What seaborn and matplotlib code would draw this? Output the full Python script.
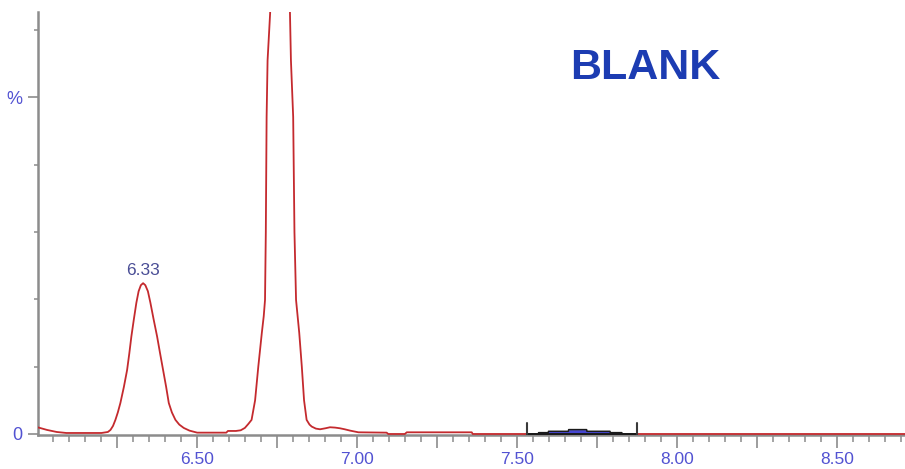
import numpy as np
import pandas as pd
import matplotlib
matplotlib.use("Agg")
import matplotlib.pyplot as plt
import seaborn as sns

# Chromatogram trace: retention time (min) vs relative intensity (%)
rt = [6.000, 6.030, 6.060, 6.090, 6.150, 6.200, 6.220, 6.228, 6.236, 6.2435,
      6.251, 6.259, 6.270, 6.280, 6.287, 6.2934, 6.301, 6.309, 6.316, 6.323,
      6.330, 6.337, 6.345, 6.3528, 6.363, 6.3737, 6.383, 6.3925, 6.402, 6.4103,
      6.420, 6.431, 6.443, 6.457, 6.475, 6.499, 6.550, 6.590, 6.595, 6.620,
      6.635, 6.648, 6.659, 6.669, 6.680, 6.690, 6.701, 6.707, 6.711, 6.7135,
      6.716, 6.719, 6.727, 6.733, 6.742, 6.758, 6.774, 6.783, 6.789, 6.792,
      6.799, 6.803, 6.808, 6.818, 6.826, 6.833, 6.841, 6.850, 6.857, 6.870,
      6.883, 6.900, 6.914, 6.930, 6.945, 6.960, 6.977, 7.003, 7.091, 7.096,
      7.148, 7.154, 7.357, 7.360, 8.711]
intensity = [1.0, 0.6, 0.3, 0.15, 0.15, 0.15, 0.3, 0.6, 1.2, 2.1,
             3.2, 4.6, 7.0, 9.5, 12.0, 14.5, 17.0, 19.5, 21.2, 22.1,
             22.4, 22.1, 21.2, 19.5, 17.0, 14.5, 12.0, 9.5, 7.0, 4.6,
             3.2, 2.1, 1.4, 0.9, 0.5, 0.2, 0.2, 0.2, 0.45, 0.45,
             0.55, 0.9, 1.5, 2.1, 5.0, 10.0, 15.0, 17.5, 19.9, 30.0,
             47.1, 55.5, 62.5, 80.0, 95.0, 100.0, 95.0, 80.0, 62.5, 55.5,
             47.1, 30.0, 19.9, 15.0, 10.0, 5.0, 2.1, 1.4, 1.1, 0.8,
             0.7, 0.85, 1.0, 0.95, 0.85, 0.7, 0.5, 0.25, 0.2, 0.0,
             0.0, 0.25, 0.25, 0.0, 0.0]

# Labelled peak
label_rt = 6.33
label_height = 22.4

# Integrated peak window and its profile
integ_start, integ_end = 7.529, 7.8725
integ_rt = [7.529, 7.565, 7.566, 7.596, 7.597, 7.659, 7.660, 7.716, 7.717, 7.789, 7.790, 7.826, 7.827, 7.8725]
integ_pct = [0.0, 0.0, 0.2, 0.2, 0.4, 0.4, 0.65, 0.65, 0.4, 0.4, 0.2, 0.2, 0.0, 0.0]

# Axis ticks
x_major = [6.25, 6.50, 6.75, 7.00, 7.25, 7.50, 7.75, 8.00, 8.25, 8.50]
x_major_labels = ["", "6.50", "", "7.00", "", "7.50", "", "8.00", "", "8.50"]
x_minor = [round(6.05 + 0.05 * i, 2) for i in range(54)]
y_major = [0, 50]
y_major_labels = ["0", "%"]
y_minor = [10, 20, 30, 40, 60]

sns.set_style("white")
plt.rcParams["font.family"] = ["Liberation Sans", "DejaVu Sans"]

axis_grey = "#8c8c8c"
tick_blue = "#5252d2"
trace_red = "#c42a2e"

fig = plt.figure(figsize=(9.05, 4.69), dpi=100)
ax = fig.add_axes([37.5 / 905, 34 / 469, (905 - 37.5) / 905, (435 - 12) / 469])

trace = pd.DataFrame({"rt": rt, "intensity": intensity})
sns.lineplot(data=trace, x="rt", y="intensity", ax=ax, color=trace_red,
             linewidth=1.3, estimator=None, sort=False, zorder=3)

# Integrated peak: filled area, outline and window markers
ax.fill_between(integ_rt, 0, integ_pct, color="#4646d2", zorder=4, linewidth=0)
integ = pd.DataFrame({"rt": integ_rt, "pct": integ_pct})
sns.lineplot(data=integ, x="rt", y="pct", ax=ax, color="#1a1a1a",
             linewidth=1.1, estimator=None, sort=False, zorder=5)
ax.plot([integ_start, integ_end], [0, 0], color="#1a1a1a", linewidth=1.4, zorder=5)
for xb in (integ_start, integ_end):
    ax.plot([xb, xb], [0, 1.6], color="#3a3a3a", linewidth=1.5, zorder=5)

ax.text(label_rt, label_height + 0.8, f"{label_rt:.2f}", ha="center", va="bottom",
        color="#4a4e96", fontsize=12.5)
ax.text(0.701, 0.868, "BLANK", transform=ax.transAxes, ha="center", va="center",
        color="#1c3cb2", fontsize=31, fontweight="bold")

ax.set_xlim(6.0, 8.711)
ax.set_ylim(-0.15, 62.68)

ax.set_xticks(x_major)
ax.set_xticklabels(x_major_labels)
ax.set_xticks(x_minor, minor=True)
ax.set_yticks(y_major)
ax.set_yticklabels(y_major_labels)
ax.set_yticks(y_minor, minor=True)

ax.tick_params(axis="x", which="major", length=9, width=1.2, color=axis_grey,
               labelcolor=tick_blue, labelsize=12.5, pad=3, direction="out", bottom=True)
ax.tick_params(axis="x", which="minor", length=5, width=1.1, color=axis_grey,
               direction="out", bottom=True)
ax.tick_params(axis="y", which="major", length=7, width=1.2, color=axis_grey,
               labelcolor=tick_blue, labelsize=13, pad=4, direction="out", left=True)
ax.tick_params(axis="y", which="minor", length=3, width=1.1, color=axis_grey,
               direction="out", left=True)

for side in ("top", "right"):
    ax.spines[side].set_visible(False)
for side in ("left", "bottom"):
    ax.spines[side].set_color(axis_grey)
    ax.spines[side].set_linewidth(1.8)

ax.set_xlabel("")
ax.set_ylabel("")

fig.savefig("out.png", dpi=100, facecolor="white")
